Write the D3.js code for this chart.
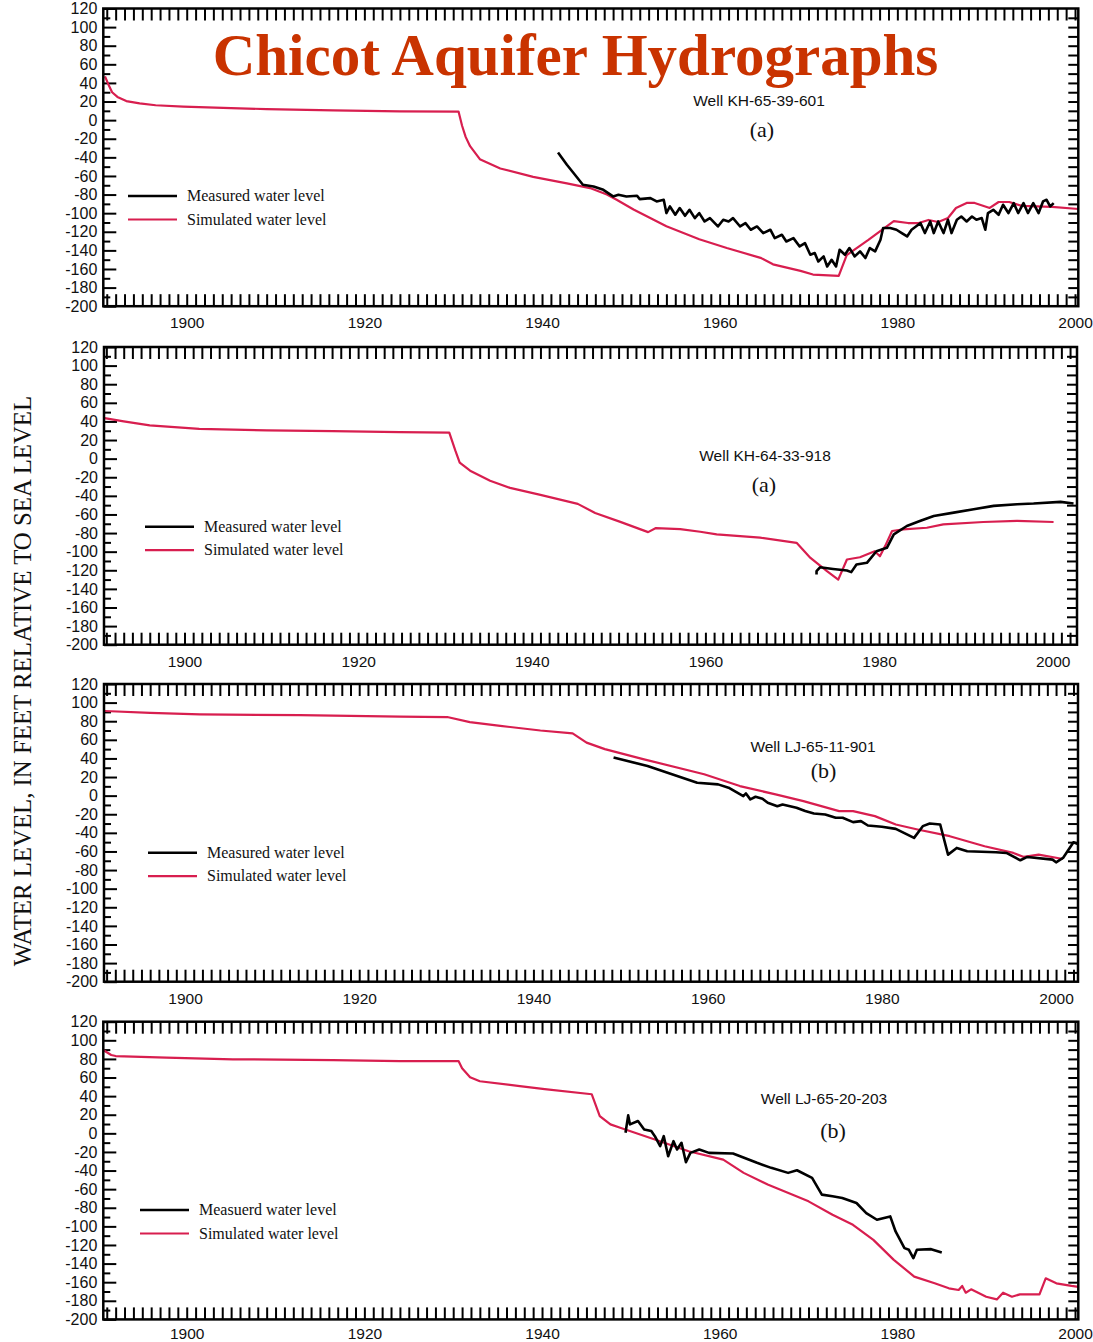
<!DOCTYPE html>
<html>
<head>
<meta charset="utf-8">
<script src="https://cdn.jsdelivr.net/npm/d3@7"></script>
<style>
  body { margin: 0; background: #fff; }
  .num { font-family: "Liberation Sans", Arial, Helvetica, sans-serif; fill: #111; }
  .serif { font-family: "Liberation Serif", "Times New Roman", serif; fill: #111; }
</style>
</head>
<body>
<div id="chart"></div>
<script>
var svgWidth = 1093;
var svgHeight = 1342;

var yearLabels = [1900, 1920, 1940, 1960, 1980, 2000];
var levelLabels = d3.range(-200, 121, 20);

// well KH-65-39-601
var well1Simulated = [[1890.8,47],[1891.2,38],[1891.6,30],[1892.2,25],[1893.2,20.5],[1894.7,18],[1896.5,16],[1899.6,14.6],[1905,13],[1909,11.8],[1916.5,10.5],[1924,9.5],[1930.6,9.2],[1931,-6],[1931.4,-18],[1931.9,-28],[1933,-42],[1935.3,-52],[1939,-61],[1942.8,-68],[1945.4,-73],[1947.3,-80],[1948.4,-85.6],[1950.3,-96],[1954,-114],[1957.7,-128],[1960.8,-137.5],[1964.6,-148],[1966,-155],[1969.1,-162],[1970.5,-166],[1973.4,-167.5],[1974.3,-145],[1976.7,-129],[1979.6,-108.5],[1981.2,-110.6],[1982.4,-110.6],[1983.5,-107.3],[1984.6,-109.5],[1985.7,-105.2],[1986.6,-94.4],[1987.8,-89],[1988.7,-89],[1990.4,-94.4],[1991.4,-88],[1992.6,-88],[1994,-92.2],[1997.4,-93.3],[2000.4,-95.5]];
var well1Measured = [[1941.8,-34.8],[1942.8,-48],[1943.5,-56.3],[1944.6,-69.5],[1945.8,-71.3],[1946.9,-74.9],[1948,-82],[1948.6,-80.3],[1949.5,-82],[1950.7,-81.3],[1951,-84.9],[1952.2,-83.8],[1952.9,-87.4],[1953.7,-85.6],[1954,-99.9],[1954.4,-92.8],[1955,-101.7],[1955.5,-94.5],[1956.1,-102.8],[1956.6,-96.4],[1957.2,-105.3],[1957.7,-99.9],[1958.3,-108.9],[1958.9,-105.3],[1959.8,-114.3],[1960.4,-107.1],[1961,-108.9],[1961.5,-105.3],[1962.3,-114.3],[1962.9,-110.7],[1963.5,-117.8],[1964.2,-114.3],[1964.9,-121.4],[1965.7,-117.8],[1966.2,-126.8],[1967,-123.2],[1967.5,-130.4],[1968.3,-126.8],[1969,-135.8],[1969.6,-132.2],[1970.2,-144.7],[1970.7,-142.9],[1971.1,-151.9],[1971.7,-146.5],[1972.1,-157.3],[1972.6,-150.1],[1973.1,-157.3],[1973.5,-139.3],[1974.1,-144.7],[1974.6,-137.5],[1975.2,-146.5],[1975.8,-141.1],[1976.4,-148.2],[1976.9,-137.5],[1977.5,-141.1],[1978.1,-128.6],[1978.4,-116],[1979.2,-116],[1979.9,-117.8],[1980.5,-121.4],[1981.1,-125],[1981.6,-117.8],[1982.2,-113.6],[1982.6,-110.7],[1983.1,-121.4],[1983.7,-108.9],[1984.1,-121.4],[1984.6,-108.9],[1985.2,-121.4],[1985.7,-107.1],[1986.1,-121.4],[1986.7,-107.1],[1987.2,-103.6],[1987.8,-108.9],[1988.4,-103.6],[1988.9,-107.1],[1989.5,-105.3],[1989.9,-117.8],[1990.2,-99.9],[1990.8,-96.4],[1991.4,-101.7],[1991.9,-91],[1992.5,-99.9],[1993.1,-89.2],[1993.6,-99.9],[1994.2,-89.2],[1994.7,-99.9],[1995.3,-89.2],[1995.9,-99.9],[1996.4,-87.4],[1996.8,-85.6],[1997.2,-92.8],[1997.6,-89.2]];

// well KH-64-33-918
var well2Simulated = [[1890.8,43.5],[1893,40],[1896,35.7],[1901.7,32],[1909.5,30.3],[1917.1,29.5],[1924.8,28.4],[1930.5,28],[1931.2,8.6],[1931.7,-4.3],[1932.9,-13],[1935.2,-23.8],[1937.5,-31.4],[1941,-39],[1945.3,-48.6],[1947.3,-58.4],[1950.2,-68],[1953.4,-79],[1954.3,-74.6],[1957.1,-75.7],[1959.4,-78.6],[1961.3,-81.4],[1966.3,-85],[1970.5,-90.5],[1972.1,-106.7],[1974,-121],[1975.3,-130],[1976.3,-108.4],[1977.8,-106],[1979.5,-99.5],[1980.1,-104.9],[1980.7,-94],[1981.5,-77.8],[1982.8,-76],[1985.5,-74.3],[1987.4,-70.6],[1992,-68.1],[1995.9,-67],[2000.1,-68.1]];
var well2Measured = [[1972.8,-124.6],[1972.8,-121],[1973.2,-116.8],[1974.7,-118.6],[1976.3,-120.3],[1976.8,-122],[1977.4,-113.8],[1978.6,-112],[1979.7,-99.5],[1980.9,-95.9],[1981.7,-81.4],[1983.2,-72.4],[1984.7,-67],[1986.3,-61.6],[1988.6,-58],[1990.9,-54.4],[1993.2,-50.8],[1995.9,-49],[1997.8,-48.3],[2000.9,-46.5],[2002.4,-48.3]];

// well LJ-65-11-901
var well3Simulated = [[1890.8,91],[1896,89],[1901.7,87.4],[1913.2,86.5],[1924.7,85],[1930.1,84.5],[1932.7,79],[1936.2,75],[1940.8,70],[1944.5,67],[1946.1,57],[1948.2,50],[1952.7,39],[1959.6,23],[1963.7,10.3],[1967.8,1.3],[1971,-5.9],[1975.1,-16.6],[1976.7,-16.6],[1979.2,-22],[1981.6,-31],[1984.1,-36.4],[1987.8,-43.6],[1991.8,-54.4],[1995.1,-61.6],[1996.3,-65.9],[1998,-63.4],[2000.8,-68.1]];
var well3Measured = [[1949.2,40.9],[1953.1,31.9],[1958.8,13.9],[1961.2,12.1],[1962.4,8.5],[1964.1,-0.5],[1964.4,2.4],[1964.9,-4],[1965.5,-1.2],[1966.3,-3.3],[1966.9,-7.7],[1968,-11.3],[1968.6,-9.5],[1970.2,-13],[1971.2,-16.6],[1972.2,-19.2],[1973.5,-20.2],[1974.7,-23.8],[1975.5,-23.8],[1976.7,-28.5],[1977.6,-27.4],[1978.4,-32.1],[1980,-33.5],[1981.6,-35.7],[1983.7,-45.4],[1984.7,-32.8],[1985.5,-30],[1986.7,-31],[1987.6,-63.4],[1988.6,-56.2],[1989.8,-59.8],[1993.1,-60.9],[1994.3,-61.6],[1995.9,-69.5],[1996.7,-65.9],[1999.6,-68.8],[2000,-71.7],[2000.8,-67],[2002,-50.1],[2003.1,-54.4]];

// well LJ-65-20-203
var well4Simulated = [[1890.6,89.6],[1891.5,84.2],[1892,83.1],[1897.7,81.3],[1905.2,79.6],[1916.5,78.8],[1924,77.7],[1930.6,77.7],[1931,70],[1931.9,60.4],[1933,56],[1937.5,50.8],[1940.3,47.6],[1945.6,42],[1946.5,18.6],[1947.7,9.6],[1948.8,6],[1952.7,-6.6],[1956.5,-19.2],[1960.4,-28.2],[1962.7,-42.5],[1965.4,-55.1],[1970,-73.1],[1972.7,-87.5],[1975,-98.3],[1977.3,-114.5],[1979.6,-136],[1981.9,-154],[1984.2,-161.2],[1985.8,-166.6],[1986.9,-168.4],[1987.3,-164],[1987.7,-171.3],[1988.3,-167.7],[1990,-175.6],[1991.2,-178.5],[1991.9,-171.3],[1992.9,-175.6],[1993.8,-173.1],[1996,-173.1],[1996.7,-155.8],[1997.9,-161.2],[1999.6,-164],[2000.4,-165]];
var well4Measured = [[1949.4,0.6],[1949.7,19.3],[1949.9,9.6],[1950.8,13.2],[1951.5,4.2],[1952.3,2.4],[1952.7,-3],[1953.3,-13.8],[1953.7,-3],[1954.2,-24.6],[1954.8,-8.4],[1955.2,-17.4],[1955.7,-10.2],[1956.2,-31],[1956.7,-21],[1957.7,-17.4],[1958.8,-21],[1961.5,-21.7],[1964.2,-31.7],[1965.8,-37.1],[1967.7,-42.5],[1968.7,-39.7],[1970.4,-47.9],[1971.5,-65.9],[1972.7,-67.7],[1973.8,-69.5],[1975.4,-74.9],[1976.5,-85.7],[1977.7,-92.9],[1979.2,-89.3],[1979.8,-105.5],[1980.8,-123.4],[1981.3,-125.2],[1981.8,-134.2],[1982.2,-125.2],[1983.8,-124.5],[1985,-128.1]];

var wellNames = ["Well KH-65-39-601", "Well KH-64-33-918", "Well LJ-65-11-901", "Well LJ-65-20-203"];
var wellTags = ["(a)", "(a)", "(b)", "(b)"];
var measuredNames = ["Measured water level", "Measured water level", "Measured water level", "Measuerd water level"];
var simulatedName = "Simulated water level";

// panel layout
var panels = [
    {top: 8.5, left: 103.3, right: 1078.3, years: [1890.61, 2000.37], pad: 11, legend: {x: 128, y: 196}, label: {x: 759, y: 106}, tag: {x: 762, y: 136.5}},
    {top: 347, left: 104, right: 1077, years: [1890.73, 2002.8], pad: 11, legend: {x: 145, y: 526.7}, label: {x: 765, y: 460.5}, tag: {x: 764, y: 491.5}},
    {top: 684, left: 104, right: 1078, years: [1890.7, 2002.52], pad: 11, legend: {x: 148, y: 852.7}, label: {x: 813, y: 752}, tag: {x: 823.5, y: 778}},
    {top: 1021.7, left: 103.3, right: 1078.3, years: [1890.61, 2000.37], pad: 8.5, legend: {x: 140, y: 1210}, label: {x: 824, y: 1104}, tag: {x: 833, y: 1138}}
];
var panelHeight = 297.7;

var measuredData = [well1Measured, well2Measured, well3Measured, well4Measured];
var simulatedData = [well1Simulated, well2Simulated, well3Simulated, well4Simulated];

var redColor = "#d81e4f";

var svg = d3.select("#chart")
    .append("svg")
    .attr("width", svgWidth)
    .attr("height", svgHeight);

function styleTicks(axisGroup, width) {
    axisGroup.select(".domain").remove();
    axisGroup.selectAll("line").attr("stroke", "#000").attr("stroke-width", width);
}

function drawPanel(p, i) {
    var bottom = p.top + panelHeight;

    var xScale = d3.scaleLinear().domain(p.years).range([p.left, p.right]);
    var yScale = d3.scaleLinear().domain([-200, 120]).range([bottom, p.top]);

    var g = svg.append("g");

    g.append("clipPath")
        .attr("id", "clip" + i)
        .append("rect")
        .attr("x", p.left)
        .attr("y", p.top)
        .attr("width", p.right - p.left)
        .attr("height", panelHeight);

    var yearTicks = d3.range(Math.ceil(p.years[0]), Math.floor(p.years[1]) + 1);

    // year ticks on top and bottom
    var bottomTicks = g.append("g")
        .attr("transform", `translate(0, ${bottom})`)
        .call(d3.axisBottom(xScale).tickValues(yearTicks).tickSize(-12).tickFormat(""));
    styleTicks(bottomTicks, 2);

    var topTicks = g.append("g")
        .attr("transform", `translate(0, ${p.top})`)
        .call(d3.axisTop(xScale).tickValues(yearTicks).tickSize(-12).tickFormat(""));
    styleTicks(topTicks, 2);

    // left ticks: long on labels, short in between
    var leftMajor = g.append("g")
        .attr("transform", `translate(${p.left}, 0)`)
        .call(d3.axisLeft(yScale).tickValues(levelLabels).tickSize(-13).tickFormat(""));
    styleTicks(leftMajor, 2);

    var leftMinor = g.append("g")
        .attr("transform", `translate(${p.left}, 0)`)
        .call(d3.axisLeft(yScale).tickValues(d3.range(-190, 120, 20)).tickSize(-7).tickFormat(""));
    styleTicks(leftMinor, 2);

    var rightTicks = g.append("g")
        .attr("transform", `translate(${p.right}, 0)`)
        .call(d3.axisRight(yScale).tickValues(d3.range(-190, 120, 10)).tickSize(-10).tickFormat(""));
    styleTicks(rightTicks, 2);

    // tick labels (plain hyphen for negatives, like the original)
    var xLabels = g.append("g")
        .attr("transform", `translate(0, ${bottom})`)
        .call(d3.axisBottom(xScale).tickValues(yearLabels).tickSize(0).tickPadding(p.pad).tickFormat(d => String(d)));
    xLabels.select(".domain").remove();
    xLabels.selectAll("text")
        .attr("class", "num")
        .attr("font-size", "15.5px")
        .attr("fill", "#111");

    var yLabels = g.append("g")
        .attr("transform", `translate(${p.left}, 0)`)
        .call(d3.axisLeft(yScale).tickValues(levelLabels).tickSize(0).tickPadding(6).tickFormat(d => String(d)));
    yLabels.select(".domain").remove();
    yLabels.selectAll("text")
        .attr("class", "num")
        .attr("font-size", "16px")
        .attr("fill", "#111");

    // series
    var line = d3.line()
        .x(d => xScale(d[0]))
        .y(d => yScale(d[1]));

    var lines = g.append("g").attr("clip-path", `url(#clip${i})`);

    lines.append("path")
        .datum(simulatedData[i])
        .attr("fill", "none")
        .attr("stroke", redColor)
        .attr("stroke-width", 2.2)
        .attr("stroke-linejoin", "round")
        .attr("d", line);

    lines.append("path")
        .datum(measuredData[i])
        .attr("fill", "none")
        .attr("stroke", "#000")
        .attr("stroke-width", 2.6)
        .attr("stroke-linejoin", "round")
        .attr("d", line);

    // frame
    g.append("rect")
        .attr("x", p.left)
        .attr("y", p.top)
        .attr("width", p.right - p.left)
        .attr("height", panelHeight)
        .attr("fill", "none")
        .attr("stroke", "#000")
        .attr("stroke-width", 2.5);

    // legend
    var legend = g.append("g").attr("transform", `translate(${p.legend.x}, ${p.legend.y})`);
    legend.append("line")
        .attr("x1", 0).attr("x2", 49).attr("y1", 0).attr("y2", 0)
        .attr("stroke", "#000").attr("stroke-width", 2.6);
    legend.append("line")
        .attr("x1", 0).attr("x2", 49).attr("y1", 23.5).attr("y2", 23.5)
        .attr("stroke", redColor).attr("stroke-width", 2.2);
    legend.append("text")
        .attr("class", "serif")
        .attr("x", 59).attr("y", 5)
        .attr("font-size", "16px")
        .text(measuredNames[i]);
    legend.append("text")
        .attr("class", "serif")
        .attr("x", 59).attr("y", 28.5)
        .attr("font-size", "16px")
        .text(simulatedName);

    // well name and tag
    g.append("text")
        .attr("class", "num")
        .attr("x", p.label.x)
        .attr("y", p.label.y)
        .attr("text-anchor", "middle")
        .attr("font-size", "15.5px")
        .text(wellNames[i]);

    g.append("text")
        .attr("class", "serif")
        .attr("x", p.tag.x)
        .attr("y", p.tag.y)
        .attr("text-anchor", "middle")
        .attr("font-size", "22px")
        .text(wellTags[i]);
}

panels.forEach(drawPanel);

// title
svg.append("text")
    .attr("x", 575.5)
    .attr("y", 75)
    .attr("text-anchor", "middle")
    .attr("font-family", "'Liberation Serif', 'Times New Roman', serif")
    .attr("font-weight", "bold")
    .attr("font-size", "59px")
    .attr("fill", "#c93300")
    .text("Chicot Aquifer Hydrographs");

// y axis title
svg.append("text")
    .attr("class", "serif")
    .attr("transform", "translate(31, 681) rotate(-90)")
    .attr("text-anchor", "middle")
    .attr("font-size", "24.8px")
    .attr("fill", "#222")
    .text("WATER LEVEL, IN FEET RELATIVE TO SEA LEVEL");
</script>
</body>
</html>
